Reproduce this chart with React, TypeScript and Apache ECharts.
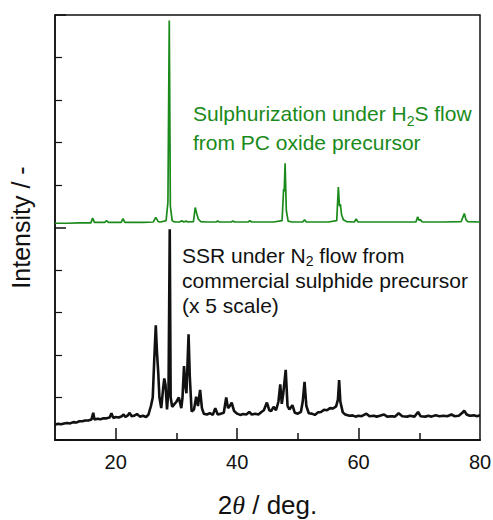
import React, { useEffect, useRef } from "react";
import * as echarts from "echarts";

// 2θ (deg) vs intensity (offset, arbitrary units)
const greenSeries: [number, number][] = [
  [10, 5.1], [12, 5.1], [14, 5.11], [15.9, 5.11], [16.2, 5.22], [16.5, 5.12], [18.2, 5.12], [18.5, 5.16], [18.8, 5.12],
  [20.9, 5.12], [21.2, 5.21], [21.5, 5.12], [23, 5.12], [24.5, 5.12], [26.2, 5.13], [26.6, 5.24], [27.0, 5.14], [27.4, 5.13],
  [28.3, 5.16], [28.6, 5.6], [28.82, 9.87], [29.0, 5.5], [29.3, 5.16], [29.7, 5.13], [30.5, 5.13], [30.9, 5.16], [31.2, 5.13],
  [31.6, 5.15], [31.9, 5.13], [32.8, 5.14], [33.1, 5.47], [33.3, 5.35], [33.6, 5.2], [34.0, 5.14], [35, 5.13], [36.5, 5.13],
  [36.8, 5.15], [37.1, 5.13], [39.0, 5.13], [39.3, 5.15], [39.6, 5.13], [41.8, 5.13], [42.1, 5.16], [42.4, 5.13], [44, 5.13],
  [46, 5.13], [47.4, 5.16], [47.65, 5.9], [47.75, 5.85], [47.9, 6.51], [48.1, 5.4], [48.4, 5.15], [49, 5.13], [50.8, 5.13],
  [51.1, 5.18], [51.4, 5.13], [53, 5.13], [55, 5.13], [56.4, 5.16], [56.67, 5.95], [56.85, 5.5], [57.0, 5.55], [57.2, 5.3],
  [57.5, 5.18], [58, 5.14], [59.3, 5.13], [59.6, 5.2], [59.9, 5.13], [62, 5.13], [64, 5.13], [66, 5.13], [68, 5.13],
  [69.45, 5.13], [69.74, 5.25], [69.95, 5.17], [70.2, 5.18], [70.5, 5.13], [72, 5.13], [74, 5.13], [76.9, 5.14],
  [77.2, 5.25], [77.42, 5.33], [77.7, 5.18], [78.0, 5.14], [80, 5.13],
];

const blackSeries: [number, number][] = [
  [10, 0.36], [10.5, 0.38], [11, 0.37], [11.5, 0.39], [12, 0.4], [12.5, 0.39], [13, 0.42], [13.5, 0.41], [14, 0.44],
  [14.5, 0.44], [15, 0.46], [15.5, 0.46], [16.0, 0.48], [16.3, 0.64], [16.5, 0.48], [17, 0.5], [17.5, 0.49], [18, 0.51],
  [18.5, 0.51], [19, 0.53], [19.3, 0.63], [19.6, 0.52], [20, 0.54], [20.5, 0.53], [21, 0.56], [21.3, 0.6], [21.6, 0.54],
  [22, 0.58], [22.3, 0.64], [22.6, 0.56], [23, 0.57], [23.5, 0.61], [24, 0.55], [24.5, 0.57], [25, 0.54], [25.4, 0.6],
  [25.8, 0.8], [26.1, 1.0], [26.35, 1.9], [26.6, 2.7], [26.8, 2.05], [27.0, 1.6], [27.2, 1.0], [27.5, 0.75], [27.8, 1.2],
  [28.0, 1.45], [28.2, 1.3], [28.45, 0.72], [28.7, 1.2], [28.9, 4.96], [29.05, 1.0], [29.3, 0.78], [29.7, 0.85], [30.0, 0.9],
  [30.4, 1.0], [30.8, 0.75], [31.0, 1.0], [31.25, 1.74], [31.45, 1.3], [31.65, 1.1], [32.0, 2.49], [32.2, 1.5], [32.5, 0.67],
  [32.9, 0.72], [33.25, 1.02], [33.55, 0.8], [33.9, 1.18], [34.2, 0.75], [34.5, 0.62], [35, 0.6], [35.5, 0.63], [36, 0.59],
  [36.4, 0.75], [36.8, 0.6], [37.3, 0.62], [37.8, 0.64], [38.2, 1.0], [38.5, 0.75], [38.8, 0.8], [39.1, 0.88], [39.5, 0.68],
  [40, 0.62], [40.5, 0.59], [41, 0.61], [41.5, 0.6], [42.0, 0.66], [42.4, 0.6], [43, 0.62], [43.5, 0.6], [44, 0.66],
  [44.4, 0.7], [44.9, 0.88], [45.3, 0.7], [45.6, 0.68], [46.0, 0.78], [46.4, 0.7], [46.8, 0.9], [47.1, 1.31], [47.35, 0.85],
  [47.6, 1.1], [48.0, 1.65], [48.3, 0.8], [48.6, 0.72], [49.1, 0.82], [49.5, 0.64], [50, 0.62], [50.5, 0.66], [50.8, 0.9],
  [51.1, 1.37], [51.4, 0.8], [51.8, 0.63], [52.3, 0.62], [52.8, 0.59], [53.3, 0.65], [53.8, 0.66], [54.3, 0.71], [54.8, 0.7],
  [55.3, 0.75], [55.8, 0.74], [56.3, 0.79], [56.6, 0.95], [56.8, 1.41], [57.0, 0.9], [57.4, 0.65], [57.8, 0.6], [58.5, 0.57],
  [59, 0.58], [59.5, 0.55], [60, 0.57], [60.5, 0.56], [61.3, 0.62], [61.8, 0.56], [62.5, 0.57], [63, 0.55], [63.5, 0.57],
  [64.2, 0.6], [64.7, 0.55], [65.5, 0.56], [66, 0.55], [66.6, 0.63], [67.2, 0.56], [68, 0.55], [68.5, 0.57], [69.2, 0.55],
  [69.8, 0.66], [70.2, 0.56], [71, 0.55], [71.5, 0.57], [72, 0.55], [72.7, 0.58], [73.3, 0.56], [74, 0.57], [74.6, 0.56],
  [75.3, 0.6], [75.8, 0.56], [76.5, 0.57], [77.1, 0.64], [77.4, 0.69], [77.8, 0.6], [78.3, 0.57], [79, 0.58], [79.5, 0.56],
  [80, 0.58],
];

const xLabelValues = [20, 40, 60, 80];
const xMajorTicks = [20, 40, 60];
const xMinorTicks = [30, 50, 70];

const GREEN = "#1a8a1a";
const BLACK = "#111111";
const FONT = "'Liberation Sans', Arial, sans-serif";

export default function App() {
  const ref = useRef<HTMLDivElement>(null);
  useEffect(() => {
    if (!ref.current) return;
    const chart = echarts.init(ref.current, undefined, { renderer: "svg" });
    const baseX = {
      type: "value" as const,
      min: 10,
      max: 80,
      position: "bottom" as const,
      axisLine: { show: true, lineStyle: { color: BLACK, width: 1.5 } },
      splitLine: { show: false },
    };
    chart.setOption({
      animation: false,
      backgroundColor: "#ffffff",
      textStyle: { fontFamily: FONT },
      grid: {
        left: 55,
        right: 13,
        top: 15,
        bottom: 80,
        containLabel: false,
        outerBoundsMode: "none",
        show: true,
        borderColor: BLACK,
        borderWidth: 1.5,
        backgroundColor: "transparent",
      },
      xAxis: [
        {
          ...baseX,
          name: "{n|2}{i|θ}{n| / deg.}",
          nameLocation: "middle",
          nameGap: 52,
          nameTextStyle: {
            rich: {
              n: { fontSize: 26, color: BLACK, fontFamily: FONT },
              i: { fontSize: 26, color: BLACK, fontStyle: "italic", fontFamily: "'Liberation Serif', serif" },
            },
          },
          axisTick: { show: true, inside: true, length: 12, customValues: xMajorTicks, lineStyle: { color: BLACK, width: 1.5 } },
          axisLabel: { show: true, customValues: xLabelValues, margin: 12, fontSize: 20, color: BLACK, fontFamily: FONT },
        },
        {
          ...baseX,
          axisTick: { show: true, inside: true, length: 7, customValues: xMinorTicks, lineStyle: { color: BLACK, width: 1.5 } },
          axisLabel: { show: false },
        },
      ],
      yAxis: {
        type: "value",
        min: 0,
        max: 10,
        interval: 5,
        name: "Intensity / -",
        nameLocation: "middle",
        nameGap: 22,
        nameTextStyle: { fontSize: 25, color: BLACK, fontFamily: FONT },
        axisLine: { show: true, lineStyle: { color: BLACK, width: 1.5 } },
        axisTick: { show: true, inside: true, length: 11, lineStyle: { color: BLACK, width: 1.5 } },
        minorTick: { show: true, splitNumber: 5, length: 7, lineStyle: { color: BLACK, width: 1.2 } },
        axisLabel: { show: false },
        splitLine: { show: false },
        minorSplitLine: { show: false },
      },
      series: [
        {
          type: "line",
          data: blackSeries,
          xAxisIndex: 0,
          showSymbol: false,
          lineStyle: { color: BLACK, width: 2.6 },
          itemStyle: { color: BLACK },
        },
        {
          type: "line",
          data: greenSeries,
          xAxisIndex: 0,
          showSymbol: false,
          lineStyle: { color: GREEN, width: 1.7 },
          itemStyle: { color: GREEN },
        },
      ],
      graphic: [
        {
          type: "text",
          left: 193,
          top: 103,
          style: {
            text: "{t|Sulphurization under H}{s|2}{t|S flow}\n{t|from PC oxide precursor}",
            rich: {
              t: { fontSize: 21, lineHeight: 29, fill: GREEN, color: GREEN, fontFamily: FONT, verticalAlign: "middle" },
              s: { fontSize: 14, lineHeight: 14, fill: GREEN, color: GREEN, fontFamily: FONT, verticalAlign: "bottom" },
            },
          },
        },
        {
          type: "text",
          left: 182,
          top: 245,
          style: {
            text: "{t|SSR under N}{s|2}{t| flow from}\n{t|commercial sulphide precursor}\n{t|(x 5 scale)}",
            rich: {
              t: { fontSize: 21, lineHeight: 25, fill: BLACK, color: BLACK, fontFamily: FONT, verticalAlign: "middle" },
              s: { fontSize: 14, lineHeight: 12, fill: BLACK, color: BLACK, fontFamily: FONT, verticalAlign: "bottom" },
            },
          },
        },
      ],
    });
    return () => chart.dispose();
  }, []);
  return <div ref={ref} style={{ position: "absolute", left: 0, top: 0, width: 493, height: 520 }} />;
}
